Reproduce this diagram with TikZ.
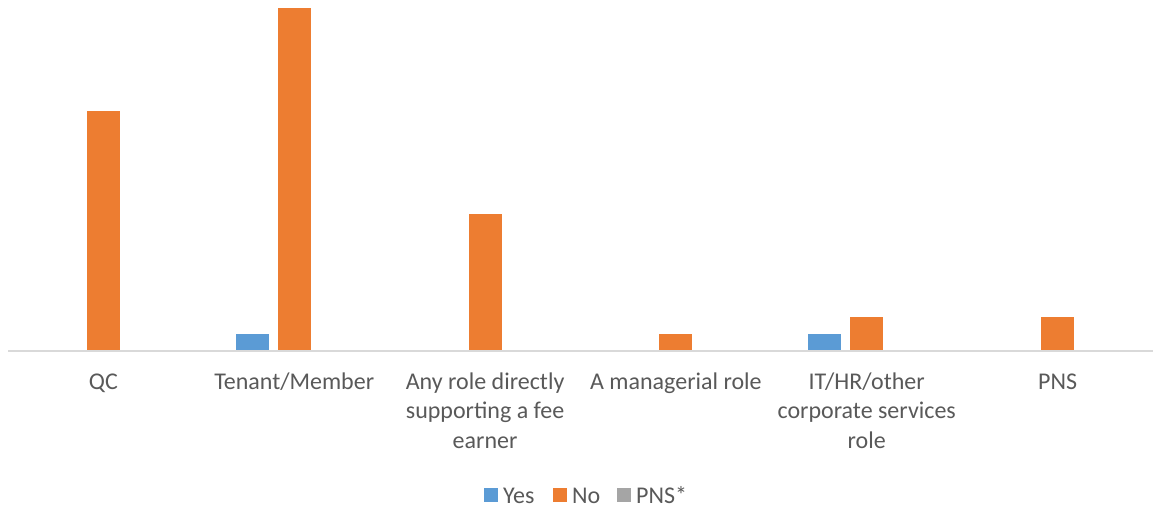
\documentclass[tikz,border=0pt]{standalone}
\usepackage{fontspec}
\setmainfont{Carlito}
\definecolor{yesc}{HTML}{5B9BD5}
\definecolor{noc}{HTML}{ED7D31}
\definecolor{pnsc}{HTML}{A5A5A5}
\definecolor{axisc}{HTML}{D9D9D9}
\definecolor{txtc}{HTML}{595959}
\begin{document}
\begin{tikzpicture}[x=1pt,y=-1pt,
  lbl/.style={inner sep=0pt,anchor=base,align=center,text=txtc,font=\fontsize{24}{29.5}\selectfont},
  leg/.style={inner sep=0pt,anchor=base west,text=txtc,font=\fontsize{24}{29.5}\selectfont},
  yesbar/.style={fill=yesc},
  nobar/.style={fill=noc},
  pnsbar/.style={fill=pnsc}]
\useasboundingbox (0,0) rectangle (1153,511);
\def\u{17.15}
\def\base{351}
% bars: category centres
\foreach \c/\v in {103.4/14, 294.2/20, 485.1/8, 675.9/1, 866.7/2, 1057.6/2}
  \fill[nobar] (\c-16.5,\base) rectangle (\c+16.5,\base-\v*\u);
\foreach \c/\v in {294.2/1, 866.7/1}
  \fill[yesbar] (\c-42-16.5,\base) rectangle (\c-42+16.5,\base-\v*\u);
% axis
\draw[axisc,line width=1.5pt] (8,\base) -- (1153,\base);
% category labels (base anchor = baseline of last line)
\node[lbl] (l1) at (103.4,389) {QC};
\node[lbl] (l2) at (294.2,389) {Tenant/Member};
\node[lbl] (l3) at (485.1,448) {Any role directly\\supporting a fee\\earner};
\node[lbl] (l4) at (675.9,389) {A managerial role};
\node[lbl] (l5) at (866.7,448) {IT/HR/other\\corporate services\\role};
\node[lbl] (l6) at (1057.6,389) {PNS};
% legend
\fill[yesbar] (484,488) rectangle (498,502);
\node[leg] (gy) at (503,503) {Yes};
\fill[nobar] (553,488) rectangle (567,502);
\node[leg] (gn) at (572,503) {No};
\fill[pnsbar] (617,488) rectangle (631,502);
\node[leg] (gp) at (636,503) {PNS*};
\end{tikzpicture}
\end{document}
